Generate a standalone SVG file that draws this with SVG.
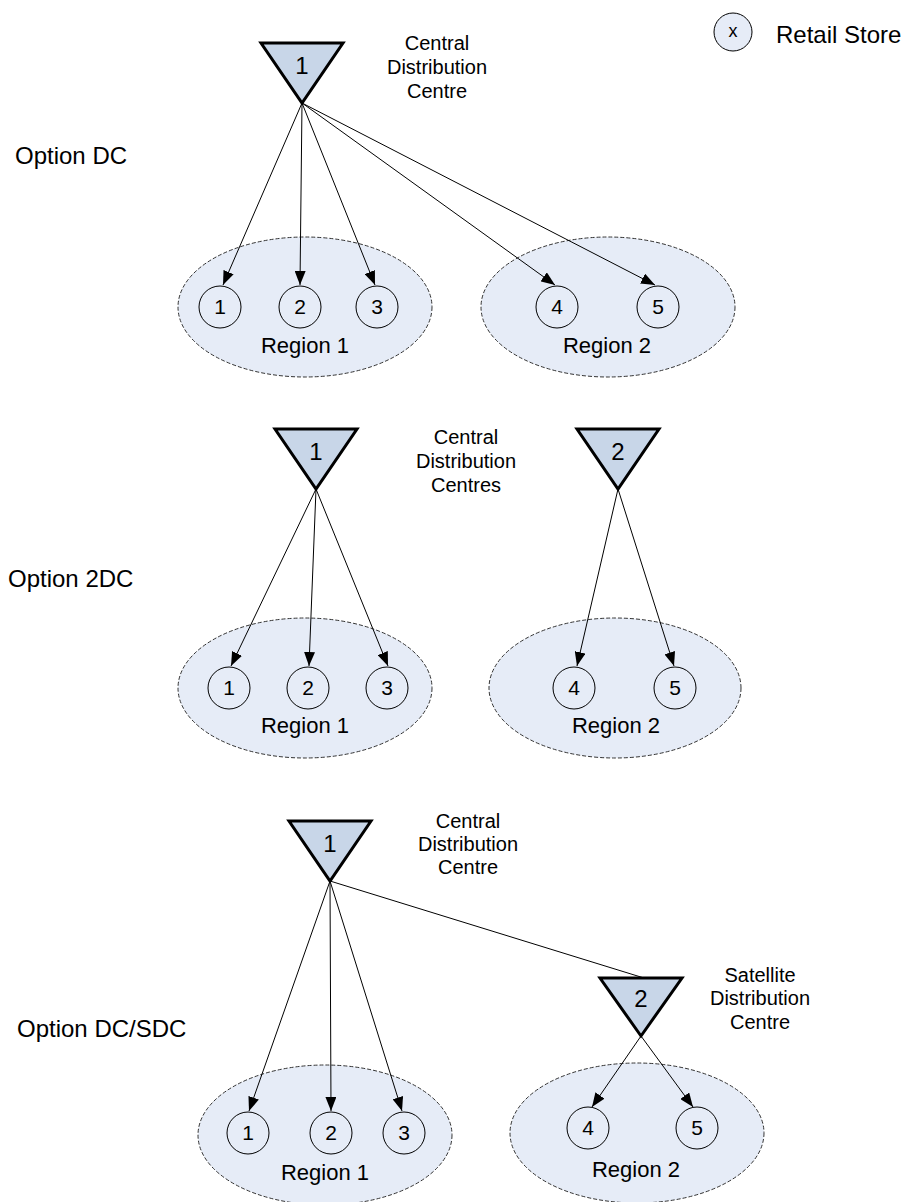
<svg xmlns="http://www.w3.org/2000/svg" width="909" height="1202" viewBox="0 0 909 1202">
<defs>
<style>
text{font-family:"Liberation Sans",Arial,sans-serif;fill:#000}
.tri{fill:#c8d6e8;stroke:#000;stroke-width:3;stroke-linejoin:miter}
.reg{fill:#e6ecf7;stroke:#333;stroke-width:1;stroke-dasharray:4 2}
.st{fill:#e6ecf7;stroke:#000;stroke-width:1}
.num{font-size:21px;text-anchor:middle}
.tnum{font-size:24px;text-anchor:middle}
.lbl{font-size:20px;text-anchor:middle}
.rl{font-size:22px;text-anchor:middle}
.opt{font-size:24px}
.con line{stroke:#000;stroke-width:1;fill:none}
.arr{marker-end:url(#ah)}
</style>
<marker id="ah" markerWidth="14" markerHeight="11" refX="14" refY="5.5" orient="auto" markerUnits="userSpaceOnUse"><path d="M0,0 L14,5.5 L0,11 z" fill="#000"/></marker>
</defs>
<rect width="909" height="1202" fill="#fff"/>

<!-- Legend -->
<g id="legend">
<circle class="st" cx="733" cy="32" r="19"/>
<text x="733" y="37" style="font-size:18px;text-anchor:middle">x</text>
<text x="776" y="43" style="font-size:24px">Retail Store</text>
</g>

<!-- Option labels -->
<g id="options">
<text class="opt" x="15" y="164">Option DC</text>
<text class="opt" x="8" y="587">Option 2DC</text>
<text class="opt" x="17" y="1037">Option DC/SDC</text>
</g>

<!-- Section 1 -->
<g id="s1-region1"><ellipse class="reg" cx="305" cy="307" rx="127" ry="70"/><text class="rl" x="305" y="353">Region 1</text></g>
<g id="s1-region2"><ellipse class="reg" cx="608" cy="307" rx="127" ry="70"/><text class="rl" x="607" y="353">Region 2</text></g>
<g id="s1-store1"><circle class="st" cx="220" cy="307" r="21"/><text class="num" x="220" y="314">1</text></g>
<g id="s1-store2"><circle class="st" cx="300" cy="307" r="21"/><text class="num" x="300" y="314">2</text></g>
<g id="s1-store3"><circle class="st" cx="377" cy="307" r="21"/><text class="num" x="377" y="314">3</text></g>
<g id="s1-store4"><circle class="st" cx="557" cy="307" r="21"/><text class="num" x="557" y="314">4</text></g>
<g id="s1-store5"><circle class="st" cx="658" cy="307" r="21"/><text class="num" x="658" y="314">5</text></g>
<g id="s1-dc1"><polygon class="tri" points="261,43 343,43 302,103"/><text class="tnum" x="302" y="74">1</text></g>
<g id="s1-label"><text class="lbl" x="437" y="50">Central</text><text class="lbl" x="437" y="74">Distribution</text><text class="lbl" x="437" y="98">Centre</text></g>

<!-- Section 2 -->
<g id="s2-region1"><ellipse class="reg" cx="305" cy="688" rx="127" ry="70"/><text class="rl" x="305" y="733">Region 1</text></g>
<g id="s2-region2"><ellipse class="reg" cx="615" cy="688" rx="126" ry="70"/><text class="rl" x="616" y="733">Region 2</text></g>
<g id="s2-store1"><circle class="st" cx="229" cy="688" r="21"/><text class="num" x="229" y="695">1</text></g>
<g id="s2-store2"><circle class="st" cx="308" cy="688" r="21"/><text class="num" x="308" y="695">2</text></g>
<g id="s2-store3"><circle class="st" cx="387" cy="688" r="21"/><text class="num" x="387" y="695">3</text></g>
<g id="s2-store4"><circle class="st" cx="574" cy="688" r="21"/><text class="num" x="574" y="695">4</text></g>
<g id="s2-store5"><circle class="st" cx="675" cy="688" r="21"/><text class="num" x="675" y="695">5</text></g>
<g id="s2-dc1"><polygon class="tri" points="275,429 357,429 316,489"/><text class="tnum" x="316" y="460">1</text></g>
<g id="s2-dc2"><polygon class="tri" points="577,429 659,429 618,489"/><text class="tnum" x="618" y="460">2</text></g>
<g id="s2-label"><text class="lbl" x="466" y="444">Central</text><text class="lbl" x="466" y="468">Distribution</text><text class="lbl" x="466" y="492">Centres</text></g>

<!-- Section 3 -->
<g id="s3-region1"><ellipse class="reg" cx="325" cy="1135" rx="127" ry="70"/><text class="rl" x="325" y="1180">Region 1</text></g>
<g id="s3-region2"><ellipse class="reg" cx="637" cy="1133" rx="127" ry="70"/><text class="rl" x="636" y="1177">Region 2</text></g>
<g id="s3-store1"><circle class="st" cx="248" cy="1133" r="21"/><text class="num" x="248" y="1140">1</text></g>
<g id="s3-store2"><circle class="st" cx="331" cy="1133" r="21"/><text class="num" x="331" y="1140">2</text></g>
<g id="s3-store3"><circle class="st" cx="404" cy="1133" r="21"/><text class="num" x="404" y="1140">3</text></g>
<g id="s3-store4"><circle class="st" cx="588" cy="1128" r="21"/><text class="num" x="588" y="1135">4</text></g>
<g id="s3-store5"><circle class="st" cx="697" cy="1128" r="21"/><text class="num" x="697" y="1135">5</text></g>
<g id="s3-dc1"><polygon class="tri" points="289,821 371,821 330,881"/><text class="tnum" x="330" y="852">1</text></g>
<g id="s3-sdc2"><polygon class="tri" points="600,978 682,978 641,1036"/><text class="tnum" x="641" y="1007">2</text></g>
<g id="s3-label"><text class="lbl" x="468" y="828">Central</text><text class="lbl" x="468" y="851">Distribution</text><text class="lbl" x="468" y="874">Centre</text></g>
<g id="s3-sat-label"><text class="lbl" x="760" y="982">Satellite</text><text class="lbl" x="760" y="1005">Distribution</text><text class="lbl" x="760" y="1029">Centre</text></g>

<!-- Connectors -->
<g id="connectors" class="con">
<line class="arr" x1="302" y1="103" x2="223" y2="285"/>
<line class="arr" x1="302" y1="103" x2="300" y2="285"/>
<line class="arr" x1="302" y1="103" x2="375" y2="285"/>
<line class="arr" x1="302" y1="103" x2="555" y2="285"/>
<line class="arr" x1="302" y1="103" x2="655" y2="285"/>

<line class="arr" x1="316" y1="489" x2="231" y2="666"/>
<line class="arr" x1="316" y1="489" x2="309" y2="666"/>
<line class="arr" x1="316" y1="489" x2="388" y2="666"/>
<line class="arr" x1="618" y1="489" x2="577" y2="666"/>
<line class="arr" x1="618" y1="489" x2="674" y2="666"/>

<line class="arr" x1="330" y1="881" x2="249" y2="1111"/>
<line class="arr" x1="330" y1="881" x2="331" y2="1111"/>
<line class="arr" x1="330" y1="881" x2="402" y2="1111"/>
<line x1="330" y1="881" x2="644" y2="978"/>
<line class="arr" x1="641" y1="1036" x2="592" y2="1107"/>
<line class="arr" x1="641" y1="1036" x2="693" y2="1107"/>
</g>
</svg>
